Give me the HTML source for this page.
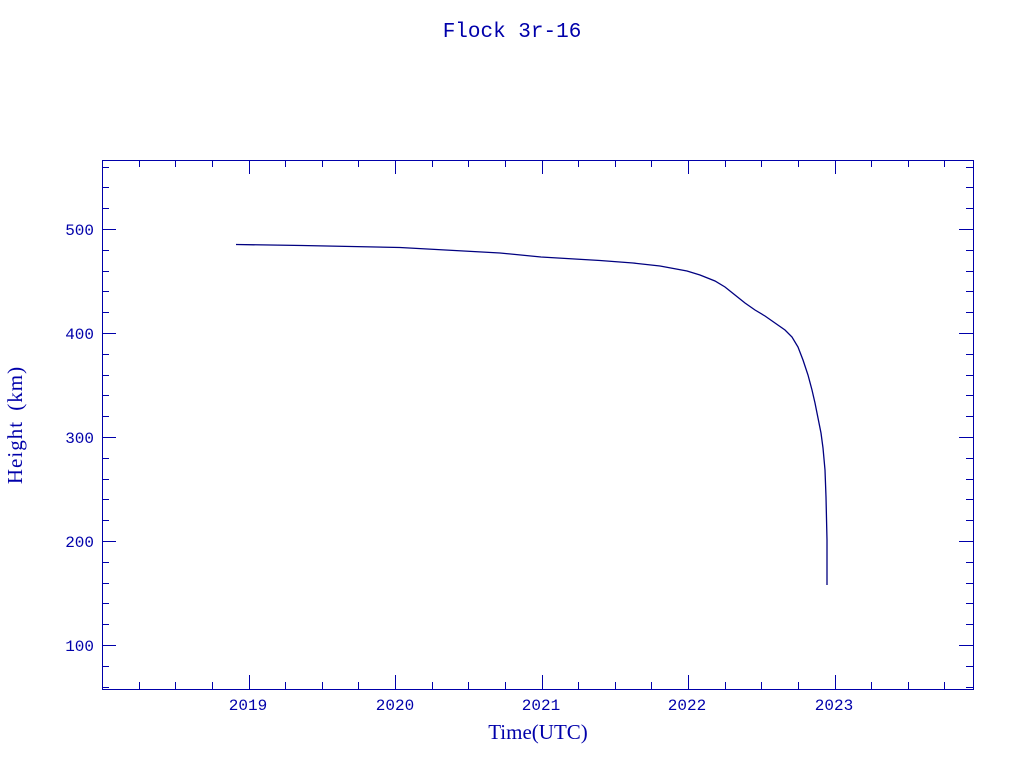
<!DOCTYPE html>
<html><head><meta charset="utf-8"><style>
body{margin:0;background:#fff;}
svg{display:block}
text{font-family:"Liberation Serif",serif;fill:#0000aa;}
text.t{font-family:"Liberation Mono","DejaVu Sans Mono",monospace;}
</style></head><body>
<svg width="1024" height="768" viewBox="0 0 1024 768" xmlns="http://www.w3.org/2000/svg">
<rect width="1024" height="768" fill="#fff"/>
<text class="t" x="512" y="37" font-size="21" text-anchor="middle">Flock 3r-16</text>
<rect x="102.5" y="160.5" width="871" height="529" fill="none" stroke="#0000aa" stroke-width="1"/>
<g id="ticks"></g>
<g font-size="16" text-anchor="end">
<text class="t" x="94" y="235">500</text>
<text class="t" x="94" y="339">400</text>
<text class="t" x="94" y="443">300</text>
<text class="t" x="94" y="547">200</text>
<text class="t" x="94" y="651">100</text>
</g>
<g font-size="16" text-anchor="middle">
<text class="t" x="248" y="710">2019</text>
<text class="t" x="395" y="710">2020</text>
<text class="t" x="541" y="710">2021</text>
<text class="t" x="687" y="710">2022</text>
<text class="t" x="834" y="710">2023</text>
</g>
<text x="538" y="739" font-size="21" text-anchor="middle">Time(UTC)</text>
<text transform="translate(22,425) rotate(-90)" font-size="21" text-anchor="middle" letter-spacing="1" word-spacing="4">Height (km)</text>
<polyline fill="none" stroke="#000080" stroke-width="1.3" points="236,244.5 302,245.5 400,247.5 500,253 541,257 600,260.5 633,263 660,266 687,271 700,275 715,281 725,287 735,295 745,303 755,310 765,316 775,323 785,330 792,337 798,347 803,360 808,375 812,390 815,403 818,418 821,433 823,448 825,470 826,497 827,540 827,585"/>
</svg>
<script>
var g=document.getElementById('ticks'),NS='http://www.w3.org/2000/svg';
function L(a,b,c,d){var l=document.createElementNS(NS,'line');l.setAttribute('x1',a);l.setAttribute('y1',b);l.setAttribute('x2',c);l.setAttribute('y2',d);l.setAttribute('stroke','#0000aa');l.setAttribute('stroke-width','1');g.appendChild(l);}
for(var i=0;i<=24;i++){var x=102+36.63*i;if(x>973)break;x=Math.round(x)+0.5;var len=(i%4==0)?14:7;L(x,689,x,689-len);L(x,160,x,160+len);}
for(var v=60;v<=560;v+=20){var y=Math.round(229+(500-v)*1.04)+0.5;var len=(v%100==0)?14:7;L(102,y,102+len,y);L(973,y,973-len,y);}
</script>
</body></html>
